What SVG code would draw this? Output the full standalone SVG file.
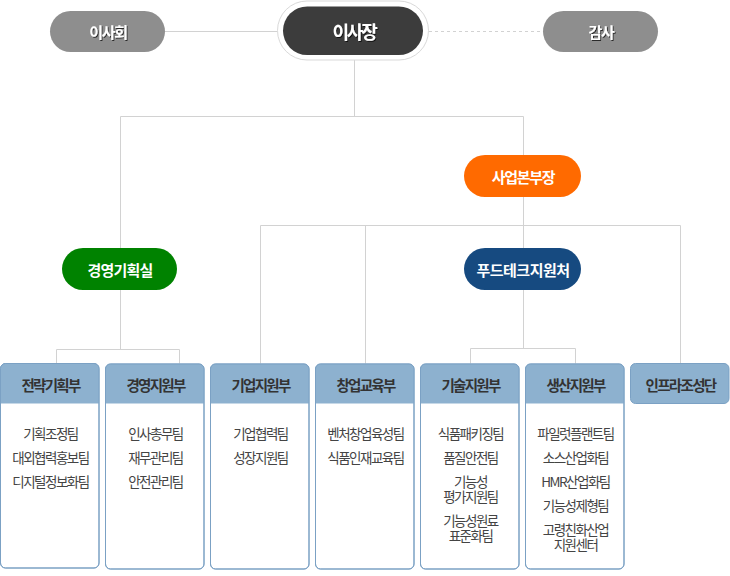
<svg xmlns="http://www.w3.org/2000/svg" width="730" height="576" viewBox="0 0 730 576">
<defs>
<style>
.ln{stroke:#d2d2d2;stroke-width:1;fill:none}
.dash{stroke:#d2d2d2;stroke-width:1;fill:none;stroke-dasharray:3 3}
.t{font-family:"Noto Sans CJK KR","Noto Sans",sans-serif;text-anchor:middle;dominant-baseline:central}
.top{fill:#fff;font-weight:bold;font-size:15px;letter-spacing:-1.3px}
.pill{fill:#fff;font-weight:bold;font-size:15px;letter-spacing:-0.8px}
.hd{fill:#333;font-weight:bold;font-size:14.5px;letter-spacing:-1.7px}
.bd{fill:#444;font-size:13.5px;letter-spacing:-1.5px}
.box{fill:#fff;stroke:#7ba1c4;stroke-width:1}
.boxo{fill:none;stroke:#7ba1c4;stroke-width:1}
.hdr{fill:#8db1cf}
</style>
<filter id="sh" x="-20%" y="-30%" width="140%" height="160%">
<feDropShadow dx="1" dy="1" stdDeviation="0.4" flood-color="#000" flood-opacity="0.7"/>
</filter>
</defs>
<rect width="730" height="576" fill="#fff"/>
<g id="connectors">
<line class="ln" x1="165" y1="31.5" x2="277" y2="31.5"/>
<line class="dash" x1="429" y1="31.5" x2="543" y2="31.5"/>
<line class="ln" x1="354.5" y1="60" x2="354.5" y2="116.5"/>
<line class="ln" x1="120.5" y1="116.5" x2="523.5" y2="116.5"/>
<line class="ln" x1="120.5" y1="116.5" x2="120.5" y2="349.5"/>
<line class="ln" x1="523.5" y1="116.5" x2="523.5" y2="348.5"/>
<line class="ln" x1="260.5" y1="225.5" x2="680.5" y2="225.5"/>
<line class="ln" x1="260.5" y1="225.5" x2="260.5" y2="363.5"/>
<line class="ln" x1="365.5" y1="225.5" x2="365.5" y2="363.5"/>
<line class="ln" x1="680.5" y1="225.5" x2="680.5" y2="363.5"/>
<line class="ln" x1="56.5" y1="349.5" x2="179.5" y2="349.5"/>
<line class="ln" x1="56.5" y1="349.5" x2="56.5" y2="363.5"/>
<line class="ln" x1="179.5" y1="349.5" x2="179.5" y2="363.5"/>
<line class="ln" x1="470.5" y1="348.5" x2="575.5" y2="348.5"/>
<line class="ln" x1="470.5" y1="348.5" x2="470.5" y2="363.5"/>
<line class="ln" x1="575.5" y1="348.5" x2="575.5" y2="363.5"/>
</g>
<g id="board">
<rect x="50" y="11" width="115" height="41" rx="20.5" fill="#8e8e8e"/>
<text class="t top" x="108" y="31.5" filter="url(#sh)">이사회</text>
</g>
<g id="chairman">
<rect x="277.5" y="1" width="151" height="59" rx="29.5" fill="#fff" stroke="#d9d9d9" stroke-width="1"/>
<rect x="283" y="6.5" width="140" height="48.5" rx="24.25" fill="#3c3c3c"/>
<text class="t" x="354" y="31" filter="url(#sh)" style="fill:#fff;font-weight:bold;font-size:18px;letter-spacing:-2.3px">이사장</text>
</g>
<g id="auditor">
<rect x="543" y="11" width="115" height="41" rx="20.5" fill="#8e8e8e"/>
<text class="t top" x="601" y="31.5" filter="url(#sh)">감사</text>
</g>
<g id="business-head">
<rect x="464" y="155" width="117" height="42" rx="21" fill="#ff6a00"/>
<text class="t pill" x="523" y="176" style="letter-spacing:-1.3px">사업본부장</text>
</g>
<g id="management-office">
<rect x="62" y="248" width="115" height="42" rx="21" fill="#008200"/>
<text class="t pill" x="120" y="269">경영기획실</text>
</g>
<g id="foodtech">
<rect x="464" y="248" width="117" height="42" rx="21" fill="#164a80"/>
<text class="t pill" x="523" y="269" style="letter-spacing:-0.5px">푸드테크지원처</text>
</g>
<g id="dept1">
<rect class="box" x="0.5" y="363.5" width="98.5" height="204.5" rx="5"/>
<path class="hdr" d="M0.5,368.5 a5,5 0 0 1 5,-5 h88.5 a5,5 0 0 1 5,5 v35 h-98.5 z"/>
<rect class="boxo" x="0.5" y="363.5" width="98.5" height="204.5" rx="5"/>
<text class="t hd" x="50.5" y="384">전략기획부</text>
<text class="t bd" x="50.5" y="433">기획조정팀</text>
<text class="t bd" x="50.5" y="457">대외협력홍보팀</text>
<text class="t bd" x="50.5" y="481">디지털정보화팀</text>
</g>
<g id="dept2">
<rect class="box" x="105.5" y="364" width="98.5" height="205" rx="5"/>
<path class="hdr" d="M105.5,369 a5,5 0 0 1 5,-5 h88.5 a5,5 0 0 1 5,5 v34.5 h-98.5 z"/>
<rect class="boxo" x="105.5" y="364" width="98.5" height="205" rx="5"/>
<text class="t hd" x="155.5" y="384">경영지원부</text>
<text class="t bd" x="155.5" y="433">인사총무팀</text>
<text class="t bd" x="155.5" y="457">재무관리팀</text>
<text class="t bd" x="155.5" y="481">안전관리팀</text>
</g>
<g id="dept3">
<rect class="box" x="210.5" y="364" width="98.5" height="205" rx="5"/>
<path class="hdr" d="M210.5,369 a5,5 0 0 1 5,-5 h88.5 a5,5 0 0 1 5,5 v34.5 h-98.5 z"/>
<rect class="boxo" x="210.5" y="364" width="98.5" height="205" rx="5"/>
<text class="t hd" x="260.5" y="384">기업지원부</text>
<text class="t bd" x="260.5" y="433">기업협력팀</text>
<text class="t bd" x="260.5" y="457">성장지원팀</text>
</g>
<g id="dept4">
<rect class="box" x="315.5" y="364" width="98.5" height="205" rx="5"/>
<path class="hdr" d="M315.5,369 a5,5 0 0 1 5,-5 h88.5 a5,5 0 0 1 5,5 v34.5 h-98.5 z"/>
<rect class="boxo" x="315.5" y="364" width="98.5" height="205" rx="5"/>
<text class="t hd" x="365.5" y="384">창업교육부</text>
<text class="t bd" x="365.5" y="433">벤처창업육성팀</text>
<text class="t bd" x="365.5" y="457">식품인재교육팀</text>
</g>
<g id="dept5">
<rect class="box" x="420.5" y="364" width="98.5" height="205" rx="5"/>
<path class="hdr" d="M420.5,369 a5,5 0 0 1 5,-5 h88.5 a5,5 0 0 1 5,5 v34.5 h-98.5 z"/>
<rect class="boxo" x="420.5" y="364" width="98.5" height="205" rx="5"/>
<text class="t hd" x="470.5" y="384">기술지원부</text>
<text class="t bd" x="470.5" y="432.5">식품패키징팀</text>
<text class="t bd" x="470.5" y="457">품질안전팀</text>
<text class="t bd" x="470.5" y="480.5">기능성<tspan x="470.5" dy="15">평가지원팀</tspan></text>
<text class="t bd" x="470.5" y="520">기능성원료<tspan x="470.5" dy="15">표준화팀</tspan></text>
</g>
<g id="dept6">
<rect class="box" x="525.5" y="364" width="98.5" height="205" rx="5"/>
<path class="hdr" d="M525.5,369 a5,5 0 0 1 5,-5 h88.5 a5,5 0 0 1 5,5 v34.5 h-98.5 z"/>
<rect class="boxo" x="525.5" y="364" width="98.5" height="205" rx="5"/>
<text class="t hd" x="575.5" y="384">생산지원부</text>
<text class="t bd" x="575.5" y="432.5">파일럿플랜트팀</text>
<text class="t bd" x="575.5" y="457">소스산업화팀</text>
<text class="t bd" x="575.5" y="481">HMR산업화팀</text>
<text class="t bd" x="575.5" y="504.5">기능성제형팀</text>
<text class="t bd" x="575.5" y="529">고령친화산업<tspan x="575.5" dy="15">지원센터</tspan></text>
</g>
<g id="dept7">
<rect x="630.5" y="363.5" width="98.5" height="40" rx="5" fill="#8db1cf" stroke="#7ba1c4" stroke-width="1"/>
<text class="t hd" x="680.5" y="384">인프라조성단</text>
</g>
</svg>
